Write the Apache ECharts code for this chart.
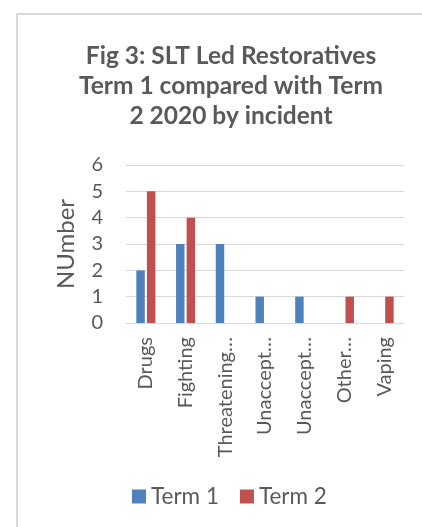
<!DOCTYPE html>
<html>
<head>
<meta charset="utf-8">
<script src="https://cdn.jsdelivr.net/npm/echarts@6/dist/echarts.min.js"></script>
<style>html,body{margin:0;padding:0;background:#fff;}#c{width:422px;height:527px;}</style>
</head>
<body>
<div id="c"></div>
<script>
const categories = ['Drugs', 'Fighting', 'Threatening…', 'Unaccept…', 'Unaccept…', 'Other…', 'Vaping'];
const term1 = [2, 3, 3, 1, 1, 0, 0];
const term2 = [5, 4, 0, 0, 0, 1, 1];
const yTicks = [0, 1, 2, 3, 4, 5, 6];

const FONT = 'Lato';
const TXT = '#595959';
const chart = echarts.init(document.getElementById('c'), null, {renderer: 'canvas'});
chart.setOption({
  animation: false,
  backgroundColor: '#fff',
  graphic: [{
    type: 'rect', silent: true,
    shape: {x: 17, y: 14, width: 600, height: 700},
    style: {fill: 'none', stroke: '#d9d9d9', lineWidth: 2}
  }],
  title: {
    text: 'Fig 3: SLT Led Restoratives\nTerm 1 compared with Term\n2 2020 by incident',
    left: 226, top: 36, textAlign: 'center',
    textStyle: {fontFamily: FONT, fontSize: 24.5, fontWeight: 'bold', color: TXT, lineHeight: 30}
  },
  legend: {
    data: ['Term 1', 'Term 2'],
    left: 132, top: 485, padding: 0,
    icon: 'rect', itemWidth: 14, itemHeight: 14, itemGap: 21,
    textStyle: {fontFamily: FONT, fontSize: 22.5, color: TXT, lineHeight: 22}
  },
  grid: {left: 126, right: 18, top: 165, bottom: 204, containLabel: false},
  xAxis: {
    type: 'category', data: categories,
    axisLine: {lineStyle: {color: '#d9d9d9', width: 1}},
    axisTick: {show: false},
    axisLabel: {rotate: 90, interval: 0, margin: 14, fontFamily: FONT, fontSize: 20, color: TXT}
  },
  yAxis: {
    type: 'value', min: yTicks[0], max: yTicks[yTicks.length - 1], interval: 1,
    name: 'NUmber', nameLocation: 'middle', nameGap: 48,
    nameTextStyle: {fontFamily: FONT, fontSize: 24, color: TXT},
    axisLine: {show: false}, axisTick: {show: false},
    splitLine: {lineStyle: {color: '#d9d9d9', width: 1}},
    axisLabel: {margin: 23, fontFamily: FONT, fontSize: 20, color: TXT}
  },
  series: [
    {name: 'Term 1', type: 'bar', data: term1, itemStyle: {color: '#4f81bd'}, barGap: '25%', barCategoryGap: '52%'},
    {name: 'Term 2', type: 'bar', data: term2, itemStyle: {color: '#c0504d'}, barGap: '25%', barCategoryGap: '52%'}
  ]
});
</script>
</body>
</html>
